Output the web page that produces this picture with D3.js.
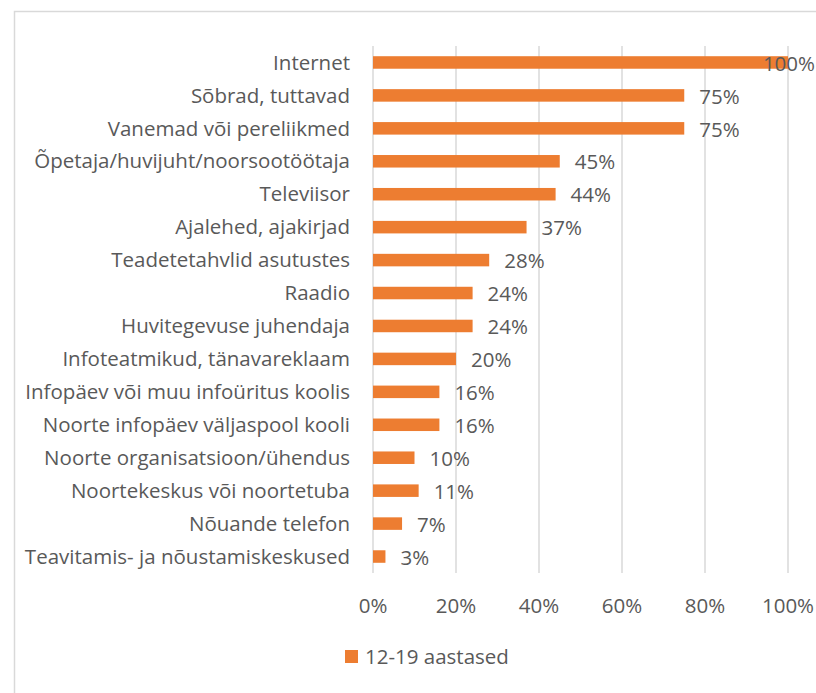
<!DOCTYPE html>
<html>
<head>
<meta charset="utf-8">
<script src="https://cdn.jsdelivr.net/npm/d3@7"></script>
<style>
  body { margin: 0; background: #fff; }
  text { font-family: "Open Sans", sans-serif; fill: #595959; }
</style>
</head>
<body>
<div id="chart"></div>
<script>
// Data
const categories = [
  'Internet',
  'Sõbrad, tuttavad',
  'Vanemad või pereliikmed',
  'Õpetaja/huvijuht/noorsootöötaja',
  'Televiisor',
  'Ajalehed, ajakirjad',
  'Teadetetahvlid asutustes',
  'Raadio',
  'Huvitegevuse juhendaja',
  'Infoteatmikud, tänavareklaam',
  'Infopäev või muu infoüritus koolis',
  'Noorte infopäev väljaspool kooli',
  'Noorte organisatsioon/ühendus',
  'Noortekeskus või noortetuba',
  'Nõuande telefon',
  'Teavitamis- ja nõustamiskeskused'
];
const values = [100, 75, 75, 45, 44, 37, 28, 24, 24, 20, 16, 16, 10, 11, 7, 3];
const xTicks = [0, 20, 40, 60, 80, 100];
const seriesName = '12-19 aastased';

const width = 816;
const height = 693;
const margin = { top: 46, left: 373, right: 28, bottom: 120 };
const barColor = '#ED7D31';
const fontSize = '20.5px';

const svg = d3.select('#chart')
  .append('svg')
  .attr('width', width)
  .attr('height', height);

// Chart area border (only top and left visible in reference)
svg.append('path')
  .attr('d', `M14.5,${height} V11.5 H${width}`)
  .attr('fill', 'none')
  .attr('stroke', '#d9d9d9')
  .attr('stroke-width', 1.5);

const x = d3.scaleLinear()
  .domain([0, 100])
  .range([margin.left, width - margin.right]);

const y = d3.scaleBand()
  .domain(categories)
  .range([margin.top, height - margin.bottom])
  .paddingInner(0.62)
  .paddingOuter(0.31);

// Gridlines
svg.append('g')
  .selectAll('line')
  .data(xTicks)
  .join('line')
  .attr('x1', d => x(d))
  .attr('x2', d => x(d))
  .attr('y1', margin.top)
  .attr('y2', height - margin.bottom)
  .attr('stroke', '#d9d9d9')
  .attr('stroke-width', 1.5);

// Bars
svg.append('g')
  .selectAll('rect')
  .data(values)
  .join('rect')
  .attr('x', x(0))
  .attr('y', (d, i) => y(categories[i]))
  .attr('width', d => x(d) - x(0))
  .attr('height', y.bandwidth())
  .attr('fill', barColor);

// Category labels
svg.append('g')
  .selectAll('text')
  .data(categories)
  .join('text')
  .attr('x', margin.left - 23)
  .attr('y', d => y(d) + y.bandwidth() / 2)
  .attr('dy', '0.35em')
  .attr('text-anchor', 'end')
  .style('font-size', fontSize)
  .text(d => d);

// Data labels, kept inside the chart area
const labels = svg.append('g')
  .selectAll('text')
  .data(values)
  .join('text')
  .attr('y', (d, i) => y(categories[i]) + y.bandwidth() / 2 + 1)
  .attr('dy', '0.35em')
  .style('font-size', fontSize)
  .text(d => d + '%');

labels.attr('x', function(d) {
  const w = this.getComputedTextLength();
  return Math.min(x(d) + 15, width - w - 1);
});

// X axis tick labels
svg.append('g')
  .selectAll('text')
  .data(xTicks)
  .join('text')
  .attr('x', d => x(d))
  .attr('y', 606)
  .attr('dy', '0.35em')
  .attr('text-anchor', 'middle')
  .style('font-size', fontSize)
  .text(d => d + '%');

// Legend
const legend = svg.append('g').attr('transform', 'translate(345,650)');
legend.append('rect')
  .attr('width', 13)
  .attr('height', 13)
  .attr('fill', barColor);
legend.append('text')
  .attr('x', 20)
  .attr('y', 7)
  .attr('dy', '0.35em')
  .style('font-size', fontSize)
  .text(seriesName);
</script>
</body>
</html>
